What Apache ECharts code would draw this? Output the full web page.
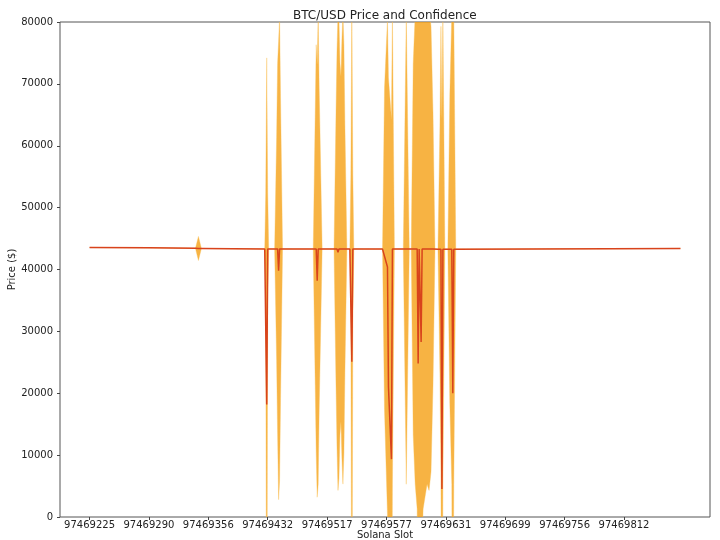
<!DOCTYPE html>
<html>
<head>
<meta charset="utf-8">
<script src="https://cdn.jsdelivr.net/npm/echarts@6/dist/echarts.min.js"></script>
<style>
  html, body { margin: 0; padding: 0; background: #fff; }
  #main { width: 720px; height: 540px; }
</style>
</head>
<body>
<div id="main"></div>
<script>
// sample index (position in the slot list), only where something changes
var sampleIdx = [0, 60, 107, 110, 113, 177, 178, 179, 180, 181,
    187, 189, 190, 191, 192, 193, 195,
    226, 228, 229, 230, 231, 232, 235,
    247, 249, 250, 251, 252, 253, 254, 255, 256, 257, 258, 260,
    263, 264, 265, 266, 267,
    296, 298, 301, 302, 305, 306, 308,
    317, 320, 323,
    325, 327, 329, 331, 332, 333, 334, 335, 336, 337, 339, 341, 343, 345, 347, 349,
    352, 354, 355, 356, 357, 359,
    362, 364, 366, 367, 368, 370,
    450, 597];
var price = [43560, 43520, 43420, 43400, 43400, 43330, 43330, 18200, 43330, 43330,
    43330, 43330, 43330, 39800, 43330, 43330, 43330,
    43320, 43320, 43320, 38200, 43320, 43320, 43320,
    43320, 43320, 43320, 42800, 43320, 43320, 43320, 43320, 43320, 43320, 43320, 43320,
    43320, 43320, 25100, 43320, 43320,
    43300, 43300, 40400, 21000, 9350, 43300, 43300,
    43300, 43300, 43300,
    43300, 43300, 43300, 43300, 24800, 43300, 43300, 28300, 43300, 43300, 43300, 43300, 43300, 43300, 43300, 43300,
    43290, 43290, 43290, 4540, 43290, 43290,
    43290, 43290, 43290, 20000, 43290, 43290,
    43330, 43400];
var conf = [0, 0, 0, 1950, 0, 0, 9000, 56000, 9000, 0,
    0, 18000, 30000, 37000, 37500, 24000, 0,
    0, 22000, 33000, 35000, 38000, 26000, 0,
    0, 22000, 32000, 38500, 37000, 30000, 28000, 34000, 38000, 33000, 20000, 0,
    0, 12000, 58000, 12000, 0,
    0, 26000, 40000, 50000, 55000, 38000, 0,
    0, 38000, 0,
    0, 30000, 38000, 42000, 60000, 45000, 50000, 55000, 48000, 42000, 40000, 38000, 39000, 36000, 22000, 0,
    0, 20000, 36000, 60000, 38000, 0,
    0, 25000, 38000, 60000, 38000, 0,
    0, 0];

var lastIdx = 597;
var tickIdx = [0, 60, 120, 180, 240, 300, 360, 420, 480, 540];
var tickLabels = ['97469225', '97469290', '97469356', '97469432', '97469517',
    '97469577', '97469631', '97469699', '97469756', '97469812'];

var pricePts = sampleIdx.map(function (s, k) { return [s, price[k]]; });

var option = {
    animation: false,
    title: {
        text: 'BTC/USD Price and Confidence',
        left: 288,
        top: 5,
        textStyle: { fontFamily: 'DejaVu Sans', fontSize: 12, fontWeight: 'normal', color: '#222' }
    },
    grid: {
        left: 60, right: 10, top: 22, bottom: 23,
        show: true, borderColor: '#555', borderWidth: 1,
        containLabel: false, outerBoundsMode: 'none'
    },
    xAxis: {
        type: 'value',
        min: -0.05 * lastIdx,
        max: lastIdx * 1.05,
        name: 'Solana Slot',
        nameLocation: 'middle',
        nameGap: 13,
        nameMoveOverlap: false,
        nameTextStyle: { fontFamily: 'DejaVu Sans', fontSize: 10, color: '#222', verticalAlign: 'top' },
        axisLine: { show: false, onZero: false },
        splitLine: { show: false },
        axisTick: { show: true, length: 3, customValues: tickIdx, lineStyle: { color: '#444' } },
        axisLabel: {
            customValues: tickIdx,
            margin: 3,
            fontFamily: 'DejaVu Sans', fontSize: 10, color: '#222',
            formatter: function (v) {
                var p = tickIdx.indexOf(Math.round(v));
                return p >= 0 ? tickLabels[p] : '';
            }
        }
    },
    yAxis: {
        type: 'value',
        min: 0, max: 80000, interval: 10000,
        name: 'Price ($)',
        nameLocation: 'middle',
        nameRotate: 90,
        nameGap: 43,
        nameMoveOverlap: false,
        nameTextStyle: { fontFamily: 'DejaVu Sans', fontSize: 10, color: '#222' },
        axisLine: { show: false, onZero: false },
        splitLine: { show: false },
        axisTick: { show: true, length: 3, lineStyle: { color: '#444' } },
        axisLabel: {
            margin: 7, fontFamily: 'DejaVu Sans', fontSize: 10, color: '#222',
            formatter: function (v) { return String(v); }
        }
    },
    series: [
        {
            // confidence band: price +/- conf
            type: 'custom',
            clip: true,
            z: 2,
            data: pricePts,
            encode: { x: 0, y: 1 },
            renderItem: function (params, api) {
                if (params.dataIndex !== 0) return;
                var pts = [];
                for (var k = 0; k < sampleIdx.length; k++) {
                    pts.push(api.coord([sampleIdx[k], price[k] + conf[k]]));
                }
                for (var j = sampleIdx.length - 1; j >= 0; j--) {
                    pts.push(api.coord([sampleIdx[j], price[j] - conf[j]]));
                }
                return {
                    type: 'polygon',
                    shape: { points: pts },
                    style: { fill: 'rgba(245,160,20,0.8)', stroke: 'rgba(250,190,80,0.6)', lineWidth: 0.6 }
                };
            }
        },
        {
            type: 'line',
            z: 3,
            data: pricePts,
            symbol: 'none',
            clip: true,
            lineStyle: { color: '#d8431c', width: 1.5 }
        }
    ]
};

echarts.init(document.getElementById('main')).setOption(option);
</script>
</body>
</html>
